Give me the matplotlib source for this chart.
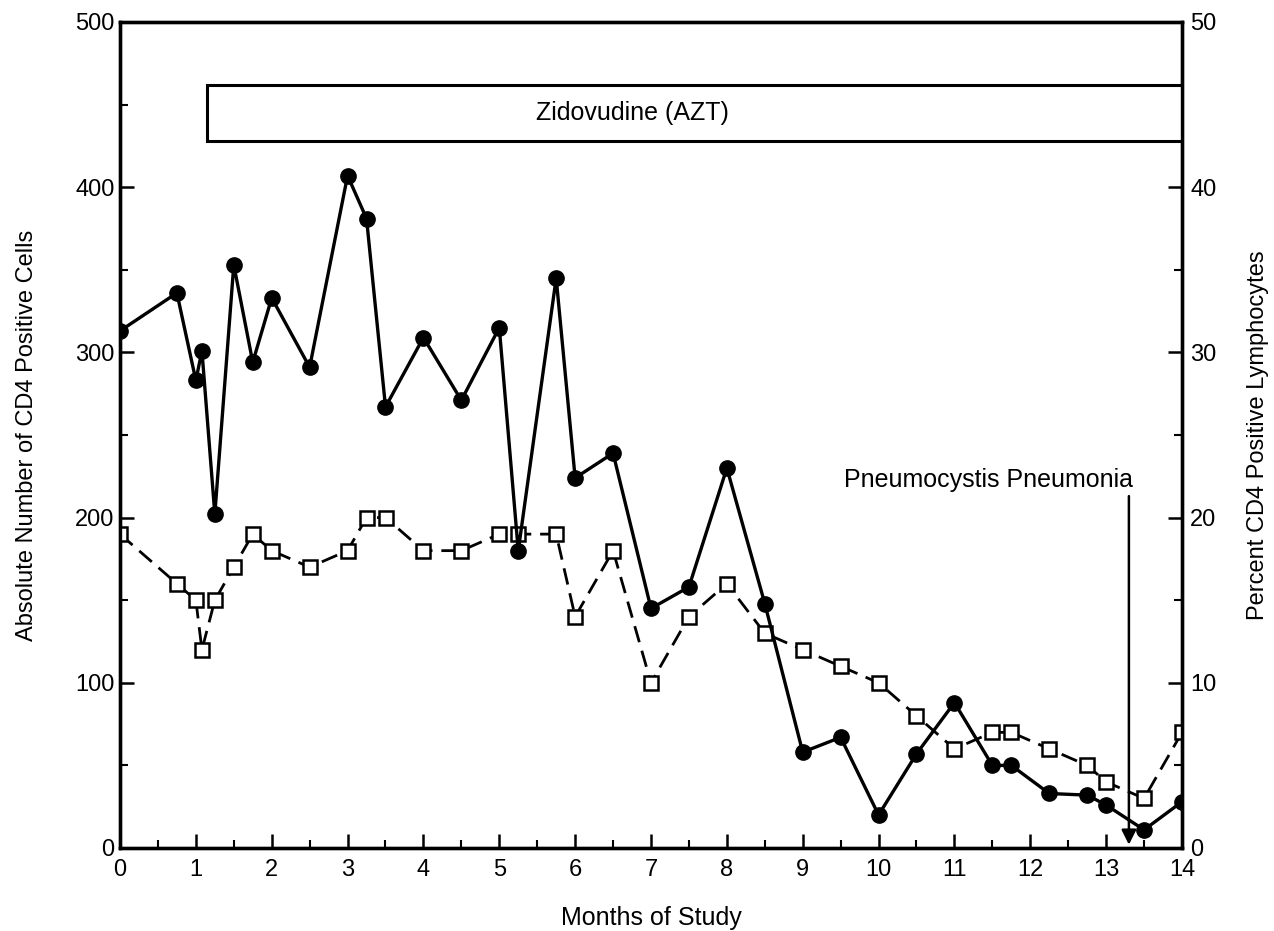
import matplotlib
matplotlib.use("Agg")
import matplotlib.pyplot as plt
from matplotlib.patches import Rectangle
from matplotlib.ticker import MultipleLocator

plt.rcParams['font.family'] = ['Liberation Sans', 'DejaVu Sans']

# Absolute CD4 count (filled circles, left axis)
months_abs = [0, 0.75, 1.0, 1.08, 1.25, 1.5, 1.75, 2.0, 2.5, 3.0, 3.25, 3.5, 4.0, 4.5,
              5.0, 5.25, 5.75, 6.0, 6.5, 7.0, 7.5, 8.0, 8.5, 9.0, 9.5, 10.0, 10.5,
              11.0, 11.5, 11.75, 12.25, 12.75, 13.0, 13.5, 14.0]
cd4_abs = [313, 336, 283, 301, 202, 353, 294, 333, 291, 407, 381, 267, 309, 271,
           315, 180, 345, 224, 239, 145, 158, 230, 148, 58, 67, 20, 57,
           88, 50, 50, 33, 32, 26, 11, 28]

# Percent CD4 lymphocytes (open squares, right axis)
months_pct = [0, 0.75, 1.0, 1.08, 1.25, 1.5, 1.75, 2.0, 2.5, 3.0, 3.25, 3.5, 4.0, 4.5,
              5.0, 5.25, 5.75, 6.0, 6.5, 7.0, 7.5, 8.0, 8.5, 9.0, 9.5, 10.0, 10.5,
              11.0, 11.5, 11.75, 12.25, 12.75, 13.0, 13.5, 14.0]
cd4_pct = [19, 16, 15, 12, 15, 17, 19, 18, 17, 18, 20, 20, 18, 18,
           19, 19, 19, 14, 18, 10, 14, 16, 13, 12, 11, 10, 8,
           6, 7, 7, 6, 5, 4, 3, 7]

x_ticks = list(range(0, 15))
left_ticks = [0, 100, 200, 300, 400, 500]
right_ticks = [0, 10, 20, 30, 40, 50]

fig = plt.figure(figsize=(12.74, 9.31), dpi=100)
ax = fig.add_axes([120/1274, 1-848/931, (1182-120)/1274, (848-22)/931])
ax2 = ax.twinx()

ax.set_xlim(0, 14)
ax.set_ylim(0, 500)
ax2.set_ylim(0, 50)

# AZT box
ax.add_patch(Rectangle((1.15, 428), 14 - 1.15, 34, facecolor='white', edgecolor='black',
                       linewidth=2.2, zorder=2, clip_on=True))
ax.text(6.75, 445, 'Zidovudine (AZT)', ha='center', va='center', fontsize=18, zorder=3)

ax2.plot(months_pct, cd4_pct, color='black', linestyle=(0, (6, 3.2)), linewidth=2.0,
         marker='s', markersize=9.5, markerfacecolor='white', markeredgecolor='black',
         markeredgewidth=1.8, zorder=3)
ax.plot(months_abs, cd4_abs, color='black', linestyle='-', linewidth=2.4,
        marker='o', markersize=11, markerfacecolor='black', markeredgecolor='black', zorder=4)
ax.set_zorder(ax2.get_zorder() + 1)
ax.patch.set_visible(False)

# Pneumocystis annotation
ax.text(11.45, 223, 'Pneumocystis Pneumonia', ha='center', va='center', fontsize=18)
ax.annotate('', xy=(13.3, 2), xytext=(13.3, 213),
            arrowprops=dict(arrowstyle='-|>', color='black', linewidth=1.8,
                            mutation_scale=22, shrinkA=0, shrinkB=0))

ax.set_xticks(x_ticks)
ax.xaxis.set_minor_locator(MultipleLocator(0.5))
ax.set_yticks(left_ticks)
ax.yaxis.set_minor_locator(MultipleLocator(50))
ax2.set_yticks(right_ticks)
ax2.yaxis.set_minor_locator(MultipleLocator(5))

for a in (ax, ax2):
    a.tick_params(which='major', direction='in', length=10, width=1.8, labelsize=17)
    a.tick_params(which='minor', direction='in', length=6, width=1.5)
    for s in a.spines.values():
        s.set_linewidth(2.4)
ax.tick_params(axis='x', which='both', top=False, pad=8)
ax.tick_params(axis='y', which='both', right=False, pad=4)
ax2.tick_params(axis='y', which='both', pad=6)

ax.set_xlabel('Months of Study', fontsize=18, labelpad=18)
ax.set_ylabel('Absolute Number of CD4 Positive Cells', fontsize=17, labelpad=27)
ax2.set_ylabel('Percent CD4 Positive Lymphocytes', fontsize=17, labelpad=22)

fig.savefig('out.png', dpi=100)
